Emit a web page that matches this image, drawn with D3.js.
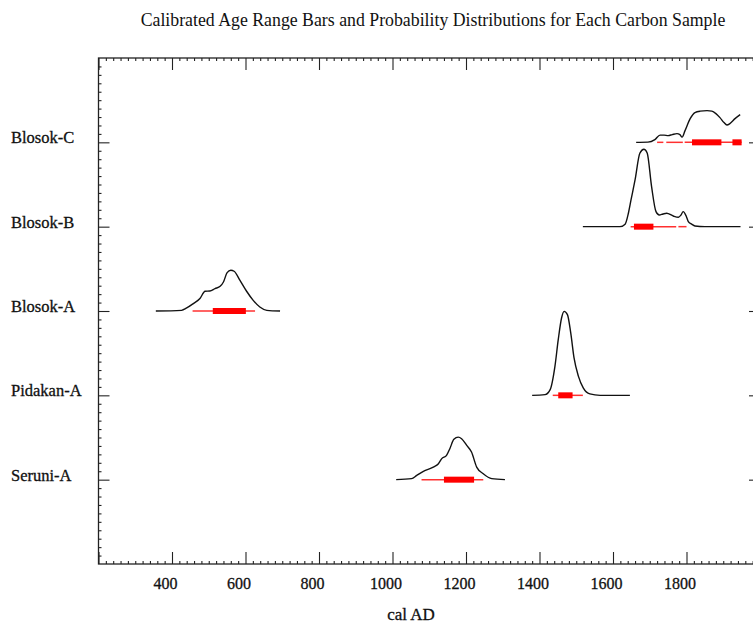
<!DOCTYPE html>
<html>
<head>
<meta charset="utf-8">
<script src="https://cdn.jsdelivr.net/npm/d3@7"></script>
<style>
  html, body { margin: 0; padding: 0; background: #fff; }
  svg { display: block; }
  text { font-family: "Liberation Serif", "DejaVu Serif", serif; fill: #111; }
  .heavy { stroke: #111; stroke-width: 0.3px; }
</style>
</head>
<body>
<svg id="chart" width="753" height="624"></svg>
<script>
// Samples, top to bottom
const samples = ["Blosok-C", "Blosok-B", "Blosok-A", "Pidakan-A", "Seruni-A"];

// Calibrated probability distributions: [cal AD year, relative probability]
const distBlosokC = [
  [1663, 0], [1695, 0.002], [1714, 0.032], [1728, 0.086], [1739, 0.086],
  [1750, 0.080], [1761, 0.092], [1774, 0.104], [1782, 0.092], [1788, 0.062],
  [1796, 0.139], [1810, 0.282], [1823, 0.354], [1837, 0.371], [1856, 0.377],
  [1869, 0.371], [1880, 0.342], [1891, 0.294], [1902, 0.235], [1910, 0.207],
  [1918, 0.223], [1932, 0.282], [1946, 0.330]
];
const distBlosokB = [
  [1518, 0], [1619, 0], [1633, 0.030], [1642, 0.163], [1649, 0.318],
  [1660, 0.556], [1673, 0.874], [1684, 0.921], [1693, 0.877], [1705, 0.476],
  [1717, 0.179], [1726, 0.139], [1736, 0.151], [1746, 0.160], [1764, 0.127],
  [1778, 0.112], [1785, 0.139], [1791, 0.179], [1799, 0.127], [1805, 0.060],
  [1814, 0.030], [1823, 0.008], [1850, 0], [1947, 0]
];
const distBlosokA = [
  [356, 0], [426, 0.008], [440, 0.036], [458, 0.088], [476, 0.148],
  [490, 0.235], [503, 0.238], [517, 0.267], [531, 0.294], [540, 0.345],
  [550, 0.457], [560, 0.485], [569, 0.473], [585, 0.365], [603, 0.235],
  [621, 0.127], [639, 0.048], [658, 0.008], [694, 0]
];
const distPidakanA = [
  [1380, 0], [1415, 0.008], [1429, 0.068], [1442, 0.345], [1451, 0.663],
  [1460, 0.921], [1467, 1.000], [1476, 0.961], [1485, 0.743], [1494, 0.445],
  [1506, 0.226], [1519, 0.088], [1537, 0.017], [1565, 0], [1646, 0]
];
const distSeruniA = [
  [1010, 0], [1052, 0.012], [1066, 0.051], [1084, 0.099], [1111, 0.150],
  [1125, 0.190], [1134, 0.250], [1147, 0.289], [1156, 0.369], [1167, 0.480],
  [1179, 0.507], [1188, 0.488], [1202, 0.408], [1215, 0.329], [1229, 0.150],
  [1247, 0.071], [1270, 0.012], [1306, 0]
];

// Highest probability density ranges, cal AD
const range954 = [
  [[1720, 1737], [1745, 1790], [1795, 1950]],
  [[1648, 1772], [1778, 1800]],
  [[456, 626]],
  [[1436, 1518]],
  [[1079, 1247]]
];
const range682 = [
  [[1815, 1895], [1925, 1950]],
  [[1657, 1710]],
  [[511, 601]],
  [[1451, 1490]],
  [[1140, 1222]]
];

const xTickValues = [400, 600, 800, 1000, 1200, 1400, 1600, 1800];
const distributions = [distBlosokC, distBlosokB, distBlosokA, distPidakanA, distSeruniA];

const svg = d3.select("#chart");

const frameL = 98.5, frameR = 760, frameT = 58, frameB = 564;

const x = d3.scaleLinear().domain([200, 2000]).range([frameL, frameR]);
// Row index 0..6, the samples sit on rows 1..5
const y = d3.scaleLinear().domain([0, 6]).range([frameT, frameB]);
const h = d3.scaleLinear().domain([0, 1]).range([0, 84]);

// Title
svg.append("text")
  .attr("x", 433).attr("y", 26)
  .attr("text-anchor", "middle")
  .attr("font-size", 17.8)
  .text("Calibrated Age Range Bars and Probability Distributions for Each Carbon Sample");

// Frame
svg.append("rect")
  .attr("x", frameL).attr("y", frameT)
  .attr("width", frameR - frameL).attr("height", frameB - frameT)
  .attr("fill", "none").attr("stroke", "#222").attr("stroke-width", 1.3);

const minorX = d3.range(200, 2001, 20).filter(v => v % 200 !== 0);
const majorX = d3.range(200, 2001, 200);
const minorY = d3.range(0, 60).filter(i => i % 10 !== 0).map(i => i / 10);
const majorY = d3.range(1, 6);

function styleAxis(g) {
  g.select(".domain").remove();
  g.selectAll(".tick line").attr("stroke", "#222").attr("stroke-width", 1.1);
  g.selectAll(".tick text").remove();
}

// Inward ticks on all four sides
[[minorX, 3], [majorX, 12]].forEach(([vals, len]) => {
  svg.append("g").attr("transform", `translate(0,${frameT})`)
    .call(d3.axisBottom(x).tickValues(vals).tickSize(len)).call(styleAxis);
  svg.append("g").attr("transform", `translate(0,${frameB})`)
    .call(d3.axisTop(x).tickValues(vals).tickSize(len)).call(styleAxis);
});
[[minorY, 3], [majorY, 11]].forEach(([vals, len]) => {
  svg.append("g").attr("transform", `translate(${frameL},0)`)
    .call(d3.axisRight(y).tickValues(vals).tickSize(len)).call(styleAxis);
  svg.append("g").attr("transform", `translate(${frameR},0)`)
    .call(d3.axisLeft(y).tickValues(vals).tickSize(len)).call(styleAxis);
});

// Year labels
const xLabels = svg.append("g").attr("transform", `translate(-7,${frameB})`)
  .call(d3.axisBottom(x).tickValues(xTickValues).tickSize(0).tickPadding(14).tickFormat(d3.format("d")));
xLabels.select(".domain").remove();
xLabels.selectAll("text")
  .attr("class", "heavy")
  .attr("font-family", "Liberation Serif, serif")
  .attr("font-size", 16).attr("fill", "#111");

svg.append("text")
  .attr("class", "heavy")
  .attr("x", 411).attr("y", 620)
  .attr("text-anchor", "middle")
  .attr("font-size", 17)
  .text("cal AD");

// Sample names
svg.append("g").selectAll("text")
  .data(samples)
  .join("text")
  .attr("class", "heavy")
  .attr("x", 11)
  .attr("y", (d, i) => y(i + 1) + 1)
  .attr("font-size", 16.5)
  .text(d => d);

// Distributions and range bars
const curveLine = d3.line()
  .x(d => x(d[0]))
  .curve(d3.curveMonotoneX);

samples.forEach((name, i) => {
  const base = y(i + 1);
  svg.append("path")
    .datum(distributions[i])
    .attr("d", curveLine.y(d => base - h(d[1])))
    .attr("fill", "none")
    .attr("stroke", "#111")
    .attr("stroke-width", 1.4)
    .attr("stroke-linejoin", "round");

  svg.append("g").selectAll("line")
    .data(range954[i])
    .join("line")
    .attr("x1", d => x(d[0])).attr("x2", d => x(d[1]))
    .attr("y1", base).attr("y2", base)
    .attr("stroke", "#ff3030").attr("stroke-width", 1.5);

  svg.append("g").selectAll("rect")
    .data(range682[i])
    .join("rect")
    .attr("x", d => x(d[0])).attr("width", d => x(d[1]) - x(d[0]))
    .attr("y", base - 3).attr("height", 6)
    .attr("fill", "#ff0000");
});
</script>
</body>
</html>
